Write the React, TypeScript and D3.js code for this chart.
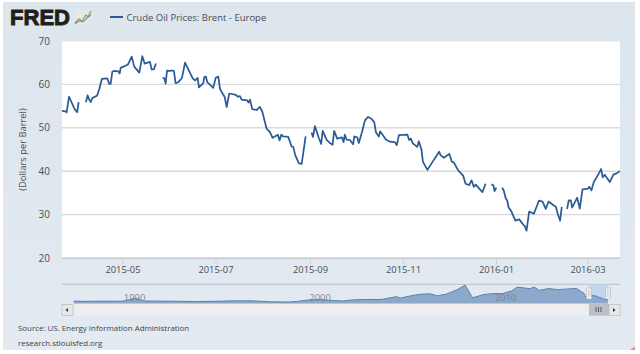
import React from "react";
import * as d3 from "d3";

const DAY = 864e5;
const START = Date.UTC(2015, 2, 22);

// Days since 2015-03-22; a null price marks a gap in the series.
const days = [
  0,2.4,3,4.6,6.1,8.3,10,10.9,13,
  15.7,16.8,17.7,18.8,20,23,24.5,26.2,29.7,31,31.9,33,34,37,37.8,38.5,43.3,45.7,47.4,50.7,52.7,54.2,57.7,58.8,60.3,61.6,64,
  66,67.1,68,68.9,71,71.9,73.4,74.5,76.3,78.7,80.7,82.8,85.7,87.4,89,89.8,92.7,93.3,94.4,95.3,99.2,100.8,102.5,103.6,105.8,106.7,108,109.7,114.1,115.2,116.7,117.8,121.5,122.4,123.3,124.8,127.7,129.8,131.4,134.2,136.4,138.1,141.6,142.7,143.8,145.1,148.4,150.6,151.7,153,155.4,157.2,159.8,162,
  163.7,164.6,165.9,168.5,170,171,173.6,175.7,177.5,178.5,180.5,183.6,184.7,185.5,186.6,188.8,191,191.7,193.6,194.7,196.9,198.7,200.8,203,204.8,205.9,207.8,208.7,212.4,215,218.3,219.6,221,226.6,227.7,228.8,230.1,233,234,235.8,236.7,239.7,242.4,247.4,248.3,250.5,254,255.7,257,259.9,263.1,264.7,267.1,268.6,270.1,271.4,274.1,275.8,277.8,280,
  281.7,283,283.7,284.9,287,
  288.7,289.8,291.1,292,292.9,294.8,297.4,299.9,302.5,303.6,304.7,306.4,309.5,312.8,315.2,317.3,319.1,322.2,323.9,325.4,326.7,327.8,330,
  331.3,332.4,333.7,334.6,337.9,339.6,341.4,345.1,345.8,347.3,348.8,351.7,353.6,354.7,356,359.3,361.7,363.7,365.9,
];
const prices: (number | null)[] = [
  53.9,53.8,53.5,57.2,56,54.3,53.6,55.9,null,
  55.9,57.5,56.6,55.9,56.9,57.4,59,61.3,61.4,60.1,60.1,62.9,63.1,63,62.5,63.8,64.6,66.4,64.1,62.7,66.5,64.8,65.2,63.4,63.5,64.8,null,
  61.6,61.4,60.2,63.2,63.1,63.2,63.1,60.3,60.5,61.5,65,63.5,61.4,60.9,61.5,59.3,60.3,61.7,61.8,60.5,59.2,61.5,61.8,59,57.6,57.1,54.8,57.9,57.6,57.2,57.3,56.5,56.3,55.8,56.5,54.3,54.1,54.8,53.7,49.8,49,47.7,48.4,47.1,48.4,48,47.9,45.7,45.6,43.7,41.8,41.7,48,null,
  48.9,47.9,50.4,47.6,46.3,49.3,47.2,46.5,46.1,49.3,47.5,47.8,46.7,48.4,47.3,47.2,46.2,48,47.8,46.5,49.2,51.7,52.5,52.1,51.3,49,48,49.2,47.3,46.8,46.7,46,48.3,48.4,47.2,47.5,46.4,45.6,46.9,45,42.2,40.3,41.8,44.5,43.7,43.1,44,42.2,42,40.2,39,37.1,36.8,37.9,36.4,36.9,35.8,35.2,37.1,null,
  37,36.7,35.4,36.2,null,
  36.2,35.5,33.7,33.3,31.7,30.7,28.6,28.9,27.7,27.3,26.3,30.7,30.2,33.2,33,31.3,33,32.2,31.8,29.9,28.6,31.8,null,
  31.3,33.3,33.3,31.6,33.9,31.4,35.8,36,36.4,35.6,37.5,39.2,40.5,38.6,39.2,37.5,39.2,39.5,40,
];

const yTicks = [20, 30, 40, 50, 60, 70];
const xTicks = ["2015-05", "2015-07", "2015-09", "2015-11", "2016-01", "2016-03"];

const navYears = [1987.4,1988,1989,1990,1990.7,1991.2,1992,1993,1994,1995,1996,1997,1998,1999,1999.5,2000,2000.7,2001,2001.9,2002.4,2003,2004,2004.8,2005,2005.7,2006.1,2006.6,2007,2007.5,2008.04,2008.5,2008.9,2009.5,2010,2010.5,2011,2011.3,2012,2012.2,2012.5,2013,2013.5,2014,2014.5,2014.9,2015,2015.3,2015.5,2016,2016.2];
const navPrices = [18,16,18,17,38,19,18,17,15,17,20,20,13,11,17,26,32,25,19,27,30,31,52,41,62,70,74,58,72,103,138,43,68,75,75,95,124,112,125,100,113,105,110,114,78,48,60,58,32,30];
const navTicks = [1990, 2000, 2010];

const legendLabel = "Crude Oil Prices: Brent - Europe";
const yTitle = "(Dollars per Barrel)";
const sourceLines = ["Source: US. Energy Information Administration", "research.stlouisfed.org"];

const FONT = "'Open Sans', sans-serif";
const TEXT = "#4a4f55";

export default function App() {
  const x = d3.scaleUtc().domain([new Date(START), new Date(START + 366 * DAY)]).range([62, 620]);
  const y = d3.scaleLinear().domain([20, 70]).range([258, 41]);
  const line = d3.line<number>()
    .defined((i) => prices[i] !== null)
    .x((i) => x(new Date(START + days[i] * DAY)))
    .y((i) => y(prices[i] as number));
  const path = line(days.map((_, i) => i)) ?? "";

  const nx = d3.scaleLinear().domain([1987.38, 2016.2]).range([73.5, 608]);
  const ny = d3.scaleLinear().domain([0, 140]).range([303.5, 285]);
  const area = d3.area<number>().x((_, i) => nx(navYears[i])).y0(303.5).y1((d) => ny(d));
  const navLine = d3.line<number>().x((_, i) => nx(navYears[i])).y((d) => ny(d));

  const tickDate = (s: string) => {
    const [yy, mm] = s.split("-").map(Number);
    return new Date(Date.UTC(yy, mm - 1, 1));
  };

  return (
    <svg width={640} height={354} style={{ position: "absolute", left: 0, top: 0, background: "#fff" }}>
      <defs>
        <linearGradient id="bg" x1="0" y1="0" x2="0" y2="1">
          <stop offset="0" stopColor="#dde5ed" />
          <stop offset="1" stopColor="#e3eaf1" />
        </linearGradient>
      </defs>
      <rect x={3} y={2} width={632} height={348} fill="url(#bg)" />
      <path d="M635,346 L635,350 L630,350 Z" fill="#e58ab0" />

      {/* Logo */}
      <text x={10} y={25} fontFamily="'Liberation Sans', sans-serif" fontWeight={700} fontSize={21.5}
        textLength={60} lengthAdjust="spacingAndGlyphs" fill="#1d1f21" stroke="#1d1f21" strokeWidth={0.9}>FRED</text>
      <rect x={74} y={10} width={17} height={15} fill="#e6e8e8" />
      <path d="M75,23 L79,19 L82,21 L86,15 L88,17 L91,11" fill="none" stroke="#7f9a5a" strokeWidth={1.1} />
      <path d="M75,24 L79,21 L83,22 L87,18 L91,15" fill="none" stroke="#8a8f8f" strokeWidth={1.1} />

      {/* Legend */}
      <line x1={110} x2={123} y1={17} y2={17} stroke="#2d5b96" strokeWidth={2} />
      <text x={126.5} y={21} fontFamily={FONT} fontSize={9.5} fill={TEXT}>{legendLabel}</text>

      {/* Plot */}
      <rect x={62} y={41} width={558} height={217} fill="#fff" />
      {yTicks.map((t) => (
        <g key={t}>
          <line x1={62} x2={620} y1={y(t)} y2={y(t)} stroke={t === 70 ? "#e4e6e8" : "#d9d9d9"} strokeWidth={t === 70 ? 1 : 1.4} />
          <text x={50} y={y(t) + 3.5} textAnchor="end" fontFamily={FONT} fontSize={10} fill={TEXT}>{t}</text>
        </g>
      ))}
      <text transform="translate(25.5,149.5) rotate(-90)" textAnchor="middle" fontFamily={FONT} fontSize={9.4} fill={TEXT}>{yTitle}</text>
      <line x1={62} x2={620} y1={258.3} y2={258.3} stroke="#c6ccd2" strokeWidth={1.2} />
      {xTicks.map((t) => {
        const px = x(tickDate(t));
        return (
          <g key={t}>
            <line x1={px} x2={px} y1={258} y2={264} stroke="#cdd3d9" />
            <text x={px} y={273} textAnchor="middle" fontFamily={FONT} fontSize={9.4} fill={TEXT}>{t}</text>
          </g>
        );
      })}
      <path d={path} fill="none" stroke="#2d5b96" strokeWidth={1.75} strokeLinejoin="round" />

      {/* Navigator */}
      <line x1={62} x2={620} y1={284.3} y2={284.3} stroke="#b6bec6" strokeWidth={1} />
      <rect x={73.5} y={304} width={535} height={11.7} fill="#eeeeee" />
      <rect x={589} y={284.5} width={19} height={19} fill="#c4d6ee" />
      <path d={area(navPrices) ?? ""} fill="#8ca8cb" />
      <path d={navLine(navPrices) ?? ""} fill="none" stroke="#5b82b2" strokeWidth={1} />
      {navTicks.map((t) => (
        <text key={t} x={nx(t) + 12.5} y={301} textAnchor="middle" fontFamily={FONT} fontSize={9.4} fill="#7d8794">{t}</text>
      ))}
      {[589, 608].map((h) => (
        <g key={h}>
          <rect x={h - 2.5} y={288} width={5} height={11} rx={1} fill="#f4f4f4" stroke="#b5b9bd" strokeWidth={0.7} />
          <line x1={h - 0.5} x2={h - 0.5} y1={290} y2={297} stroke="#c4c7ca" strokeWidth={0.7} />
          <line x1={h + 0.8} x2={h + 0.8} y1={290} y2={297} stroke="#c4c7ca" strokeWidth={0.7} />
        </g>
      ))}
      {/* Scrollbar */}
      <rect x={62} y={304.5} width={11} height={11} fill="#e8e8e8" stroke="#b8bcc0" strokeWidth={0.7} />
      <path d="M65.5,310 L68,308 L68,312 Z" fill="#333" />
      <rect x={589} y={304} width={20} height={11.7} fill="#bcbfc3" />
      {[596, 598.5, 601].map((bx) => (
        <line key={bx} x1={bx} x2={bx} y1={307} y2={312} stroke="#4c4f52" strokeWidth={0.9} />
      ))}
      <rect x={609} y={304.5} width={11} height={11} fill="#e8e8e8" stroke="#b8bcc0" strokeWidth={0.7} />
      <path d="M613,308 L615.5,310 L613,312 Z" fill="#333" />

      {/* Source */}
      {sourceLines.map((s, i) => (
        <text key={s} x={18} y={331 + i * 15} fontFamily={FONT} fontSize={7.9} fill="#3f4448">{s}</text>
      ))}
    </svg>
  );
}
